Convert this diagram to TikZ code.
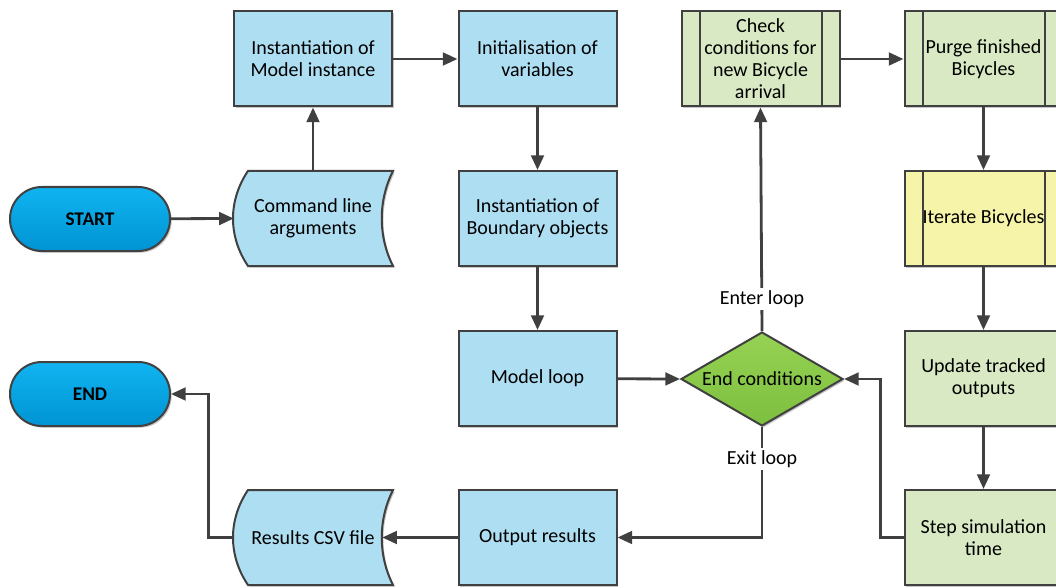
\documentclass[tikz,border=0pt]{standalone}
\usepackage{fontspec}
\setmainfont{Carlito}
\usetikzlibrary{arrows.meta,shapes.geometric,shadows,calc}
\definecolor{ln}{HTML}{404040}
\definecolor{cblue}{HTML}{AEDEF2}
\definecolor{cgreen}{HTML}{D8E9C3}
\definecolor{cyell}{HTML}{F5F4A8}
\definecolor{termtop}{HTML}{10B4F0}
\definecolor{termbot}{HTML}{0094D4}
\definecolor{dtop}{HTML}{96D253}
\definecolor{dbot}{HTML}{7DBF3F}
\tikzset{
  shd/.style={drop shadow={shadow xshift=1.3pt,shadow yshift=-1.3pt,fill=black,opacity=0.22}},
  box/.style={draw=ln, line width=1.5pt, minimum width=118.5pt, minimum height=71.25pt, align=center, inner sep=0pt, shd},
  bluebox/.style={box, fill=cblue},
  greenbox/.style={box, fill=cgreen},
  yellbox/.style={box, fill=cyell},
  databox/.style={minimum width=118.5pt, minimum height=71.25pt, align=center, inner sep=0pt},
  dataline/.style={draw=ln, line width=1.5pt, fill=cblue, shd},
  term/.style={draw=ln, line width=1.5pt, minimum width=120pt, minimum height=48pt, rounded corners=23.9pt, top color=termtop, bottom color=termbot, font=\fontsize{14.5}{16}\selectfont\bfseries, shd},
  decis/.style={diamond, draw=ln, line width=1.5pt, minimum width=121.5pt, minimum height=70.5pt, inner sep=0pt, top color=dtop, bottom color=dbot, shd},
  conn/.style={draw=ln, line width=2.1pt, -{Triangle[length=11pt,width=9.5pt]}},
  inner/.style={draw=ln, line width=1.5pt},
  lbl/.style={fill=white, inner sep=1.5pt}
}
\newcommand\storeddata[2]{%
  \draw[dataline] (#1-65,#2-47.5) -- (#1+80,#2-47.5)
    .. controls (#1+65,#2-18) and (#1+65,#2+18) .. (#1+80,#2+47.5)
    -- (#1-65,#2+47.5)
    .. controls (#1-85,#2+18) and (#1-85,#2-18) .. cycle;}
\newcommand\predef[1]{%
  \draw[inner] ([xshift=14.25pt]#1.north west) -- ([xshift=14.25pt]#1.south west);
  \draw[inner] ([xshift=-14.25pt]#1.north east) -- ([xshift=-14.25pt]#1.south east);}
\begin{document}
\begin{tikzpicture}[x=0.75pt,y=-0.75pt,font=\fontsize{15}{16.5}\selectfont]
\clip (0,0) rectangle (1056,588);
\fill[white] (0,0) rectangle (1056,588);

% terminals
\node[term] (start) at (90,219) {START};
\node[term] (endn) at (90,394) {END};

% stored data
\storeddata{313}{218.5}
\node[databox] (cmd) at (313,218.5) {Command line\\arguments};
\storeddata{313}{537.5}
\node[databox] (csv) at (313,537.5) {Results CSV file};

% process boxes
\node[bluebox] (model) at (313,59) {Instantiation of\\Model instance};
\node[bluebox] (init) at (537.5,59) {Initialisation of\\variables};
\node[bluebox] (bound) at (537.5,218.5) {Instantiation of\\Boundary objects};
\node[bluebox] (loop) at (537.5,378.5) {Model loop};
\node[bluebox] (out) at (537.5,537.5) {Output results};

\node[greenbox] (check) at (760.5,59) {Check\\conditions for\\new Bicycle\\arrival};
\predef{check}
\node[greenbox] (purge) at (983.5,59) {Purge finished\\Bicycles};
\predef{purge}
\node[yellbox] (iter) at (983.5,218.5) {Iterate Bicycles};
\predef{iter}
\node[greenbox] (update) at (983.5,378.5) {Update tracked\\outputs};
\node[greenbox] (step) at (983.5,537.5) {Step simulation\\time};

\node[decis, label=center:End conditions] (diam) at (762,379) {};

% connectors
\draw[conn] (start) -- (cmd.west);
\draw[conn] (cmd.north) -- (model.south);
\draw[conn] (model) -- (init);
\draw[conn] (init) -- (bound);
\draw[conn] (bound) -- (loop);
\draw[conn] (loop) -- (diam.west);
\draw[conn] (diam.north) -- (check.south);
\draw[conn] (check) -- (purge);
\draw[conn] (purge) -- (iter);
\draw[conn] (iter) -- (update);
\draw[conn] (update) -- (step);
\draw[conn] (step.west) -- ++(-23,0) |- (diam.east);
\draw[conn] (diam.south) |- (out.east);
\draw[conn] (out.west) -- ([xshift=-7.5pt]csv.east);
\draw[conn] (csv.west) -- ++(-25,0) |- (endn.east);

\node[lbl] (enter) at (762,299) {Enter loop};
\node[lbl] (exit) at (762,459) {Exit loop};
\end{tikzpicture}
\end{document}
